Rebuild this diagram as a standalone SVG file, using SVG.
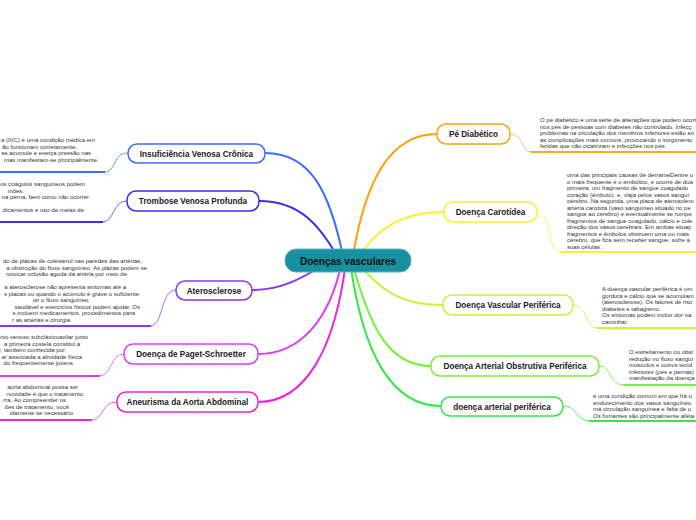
<svg xmlns="http://www.w3.org/2000/svg" width="696" height="520" viewBox="0 0 696 520">
<style>
.node{fill:#fff;stroke-width:1.5}
.lbl{font-family:"Liberation Sans",Arial,sans-serif;font-weight:bold;font-size:8.2px;fill:#1a1a1a;text-anchor:middle}
.desc{font-family:"Liberation Sans",Arial,sans-serif;font-size:6px;fill:#333}
.desc.r{text-anchor:end}
.main{fill:none;stroke-width:2;stroke-linecap:round}
.sub{fill:none;stroke-width:1}
.ul{fill:none;stroke-width:2}
</style>
<rect width="696" height="520" fill="#fff"/>
<g id="connectors">
<path class="main" stroke="#ffa010" d="M352,261 C365,180 390,134 437,134"/>
<path class="main" stroke="#ffee33" d="M356,261 C375,230 400,212 444,212"/>
<path class="main" stroke="#c3f53c" d="M356,261 C380,290 400,305 443,305"/>
<path class="main" stroke="#77f03a" d="M352,261 C370,330 390,366 431,366"/>
<path class="main" stroke="#33e84a" d="M350,261 C362,350 390,406 441,406"/>
<path class="main" stroke="#3a6dff" d="M344,261 C330,190 310,153 265,153"/>
<path class="main" stroke="#3a2cf0" d="M340,261 C320,225 300,201 259,201"/>
<path class="main" stroke="#8c33ff" d="M330,261 C300,280 280,290 252,290"/>
<path class="main" stroke="#dd3cf5" d="M342,261 C330,320 300,354 258,354"/>
<path class="main" stroke="#f020dd" d="M346,261 C335,350 305,402 258,402"/>

<path class="sub" stroke="#ffc45a" d="M510,134 C525,134 520,152 532,152"/>
<path class="ul" stroke="#ffa820" d="M531,152 L696,152"/>
<path class="sub" stroke="#fff060" d="M537,212 C552,212 547,252 561,252"/>
<path class="ul" stroke="#ffee33" d="M560,252 L696,252"/>
<path class="sub" stroke="#cdf760" d="M573,305 C588,305 584,328 598,328"/>
<path class="ul" stroke="#c3f53c" d="M597,328 L696,328"/>
<path class="sub" stroke="#8ff060" d="M599,366 C612,366 609,385 624,385"/>
<path class="ul" stroke="#77f03a" d="M623,385 L696,385"/>
<path class="sub" stroke="#60ec70" d="M563,406 C578,406 575,421 590,421"/>
<path class="ul" stroke="#33e84a" d="M589,421 L696,421"/>

<path class="sub" stroke="#6a90ff" d="M128,153 C112,153 117,172 104,172"/>
<path class="ul" stroke="#3a6dff" d="M105,172 L0,172"/>
<path class="sub" stroke="#6a60f5" d="M127,201 C112,201 115,222 102,222"/>
<path class="ul" stroke="#3a2cf0" d="M103,222 L0,222"/>
<path class="sub" stroke="#a866ff" d="M176,290 C160,290 164,326 150,326"/>
<path class="ul" stroke="#8c33ff" d="M151,326 L0,326"/>
<path class="sub" stroke="#e670f8" d="M124,354 C110,354 112,376 99,376"/>
<path class="ul" stroke="#dd3cf5" d="M100,376 L0,376"/>
<path class="sub" stroke="#f560e6" d="M117,402 C101,402 104,420 91,420"/>
<path class="ul" stroke="#f020dd" d="M92,420 L0,420"/>
</g>

<g id="center">
<rect x="285" y="249" width="126" height="23" rx="11" fill="#17909f" stroke="#5aaecb" stroke-width="1"/>
<text x="348" y="264.5" style="font-family:'Liberation Sans',Arial,sans-serif;font-weight:bold;font-size:10px;fill:#111;text-anchor:middle">Doenças vasculares</text>
</g>

<g id="pe-diabetico">
<rect class="node" x="437" y="124" width="73" height="20" rx="9" stroke="#ffa010"/>
<text class="lbl" x="473.5" y="137">Pé Diabético</text>
<text class="desc" x="540" y="122">O pé diabético é uma série de alterações que podem ocorr</text>
<text class="desc" x="540" y="128.5">nos pés de pessoas com diabetes não controlado. Infecç</text>
<text class="desc" x="540" y="135">problemas na circulação dos membros inferiores estão en</text>
<text class="desc" x="540" y="141.5">as complicações mais comuns, provocando o surgimento</text>
<text class="desc" x="540" y="148">feridas que não cicatrizam e infecções nos pés</text>
</g>

<g id="doenca-carotidea">
<rect class="node" x="444" y="202" width="93" height="20" rx="9" stroke="#ffee33"/>
<text class="lbl" x="490.5" y="215">Doença Carotídea</text>
<text class="desc" x="567" y="177">uma das principais causas de derrameDentre o</text>
<text class="desc" x="567" y="183.5">o mais frequente é o embólico, e ocorre de dua</text>
<text class="desc" x="567" y="190">primeira, um fragmento de sangue coagulado</text>
<text class="desc" x="567" y="196.5">coração (êmbolo), e, viaja pelos vasos sanguí</text>
<text class="desc" x="567" y="203">cérebro. Na segunda, uma placa de aterosclero</text>
<text class="desc" x="567" y="209.5">artéria carótida (vaso sanguíneo situado no pe</text>
<text class="desc" x="567" y="216">sangue ao cérebro) e eventualmente se rompe</text>
<text class="desc" x="567" y="222.5">fragmentos de sangue coagulado, cálcio e cole</text>
<text class="desc" x="567" y="229">direção dos vasos cerebrais. Em ambas situaç</text>
<text class="desc" x="567" y="235.5">fragmentos e êmbolos obstruem uma ou mais</text>
<text class="desc" x="567" y="242">cérebro, que fica sem receber sangue, sofre a</text>
<text class="desc" x="567" y="248.5">suas células.</text>
</g>

<g id="doenca-vascular-periferica">
<rect class="node" x="443" y="295" width="130" height="20" rx="9" stroke="#c3f53c"/>
<text class="lbl" x="508" y="308">Doença Vascular Periférica</text>
<text class="desc" x="602" y="291">A doença vascular periférica é um</text>
<text class="desc" x="602" y="297.5">gordura e cálcio que se acumulam</text>
<text class="desc" x="602" y="304">(aterosclerose). Os fatores de risc</text>
<text class="desc" x="602" y="310.5">diabetes e tabagismo.</text>
<text class="desc" x="602" y="317">Os sintomas podem incluir dor na</text>
<text class="desc" x="602" y="323.5">caminhar.</text>
</g>

<g id="doenca-arterial-obstrutiva">
<rect class="node" x="431" y="356" width="168" height="20" rx="9" stroke="#77f03a"/>
<text class="lbl" x="515" y="369">Doença Arterial Obstrutiva Periférica</text>
<text class="desc" x="629" y="354">O estreitamento ou obst</text>
<text class="desc" x="629" y="360.5">redução no fluxo sanguí</text>
<text class="desc" x="629" y="367">músculos e outros tecid</text>
<text class="desc" x="629" y="373.5">inferiores (pés e pernas)</text>
<text class="desc" x="629" y="380">manifestação da doença</text>
</g>

<g id="doenca-arterial-periferica">
<rect class="node" x="441" y="397" width="122" height="19" rx="9" stroke="#33e84a"/>
<text class="lbl" x="502" y="409.5">doença arterial periférica</text>
<text class="desc" x="593" y="398">é uma condição comum em que há u</text>
<text class="desc" x="593" y="404.5">endurecimento dos vasos sanguíneo</text>
<text class="desc" x="593" y="411">má circulação sanguínea e falta de o</text>
<text class="desc" x="593" y="417.5">Os fumantes são principalmente afeta</text>
</g>

<g id="insuficiencia-venosa-cronica">
<rect class="node" x="128" y="144" width="137" height="19" rx="9" stroke="#3a6dff"/>
<text class="lbl" x="196.5" y="156.5">Insuficiência Venosa Crônica</text>
<text class="desc r" x="95" y="142">a (IVC) é uma condição médica em</text>
<text class="desc r" x="77" y="148.5">ão funcionam corretamente,</text>
<text class="desc r" x="91" y="155">se acumule e exerça pressão nas</text>
<text class="desc r" x="97" y="161.5">mas manifestam-se principalmente</text>
</g>

<g id="trombose-venosa-profunda">
<rect class="node" x="127" y="191" width="132" height="20" rx="9" stroke="#3a2cf0"/>
<text class="lbl" x="193" y="204">Trombose Venosa Profunda</text>
<text class="desc r" x="85" y="186">os coágulos sanguíneos podem</text>
<text class="desc r" x="24" y="192.5">mões.</text>
<text class="desc r" x="89" y="199">na perna, bem como não ocorrer</text>
<text class="desc r" x="84" y="212">dicamentos e uso de meias de</text>
</g>

<g id="aterosclerose">
<rect class="node" x="176" y="281" width="76" height="19" rx="9" stroke="#8c33ff"/>
<text class="lbl" x="214" y="293.5">Aterosclerose</text>
<text class="desc r" x="142" y="263">do de placas de colesterol nas paredes das artérias,</text>
<text class="desc r" x="147" y="269.5">a obstrução do fluxo sanguíneo. As placas podem se</text>
<text class="desc r" x="127" y="276">rovocar oclusão aguda da artéria por meio de</text>
<text class="desc r" x="126" y="289">a aterosclerose não apresenta sintomas até a</text>
<text class="desc r" x="139" y="295.5">s placas ou quando o acúmulo é grave o suficiente</text>
<text class="desc r" x="90" y="302">uir o fluxo sanguíneo.</text>
<text class="desc r" x="140" y="308.5">saudável e exercícios físicos podem ajudar. Os</text>
<text class="desc r" x="135" y="315">s incluem medicamentos, procedimentos para</text>
<text class="desc r" x="70" y="321.5">r as artérias e cirurgia</text>
</g>

<g id="doenca-paget-schroetter">
<rect class="node" x="124" y="344" width="134" height="20" rx="9" stroke="#dd3cf5"/>
<text class="lbl" x="191" y="357">Doença de Paget-Schroetter</text>
<text class="desc r" x="88" y="339">nto venoso subclávicoaxilar junto</text>
<text class="desc r" x="80" y="345.5">a primeira costela constitui a</text>
<text class="desc r" x="65" y="352">r, também conhecida por</text>
<text class="desc r" x="82" y="358.5">ar associada a atividade física</text>
<text class="desc r" x="73" y="365">do frequentemente jovens</text>
</g>

<g id="aneurisma-aorta-abdominal">
<rect class="node" x="117" y="392" width="141" height="20" rx="9" stroke="#f020dd"/>
<text class="lbl" x="187.5" y="405">Aneurisma da Aorta Abdominal</text>
<text class="desc r" x="78" y="389">aorta abdominal possa ser</text>
<text class="desc r" x="83" y="395.5">novidade é que o tratamento</text>
<text class="desc r" x="66" y="402">rra. Ao compreender os</text>
<text class="desc r" x="69" y="408.5">ões de tratamento, você</text>
<text class="desc r" x="73" y="415">idamente se necessário</text>
</g>
</svg>
